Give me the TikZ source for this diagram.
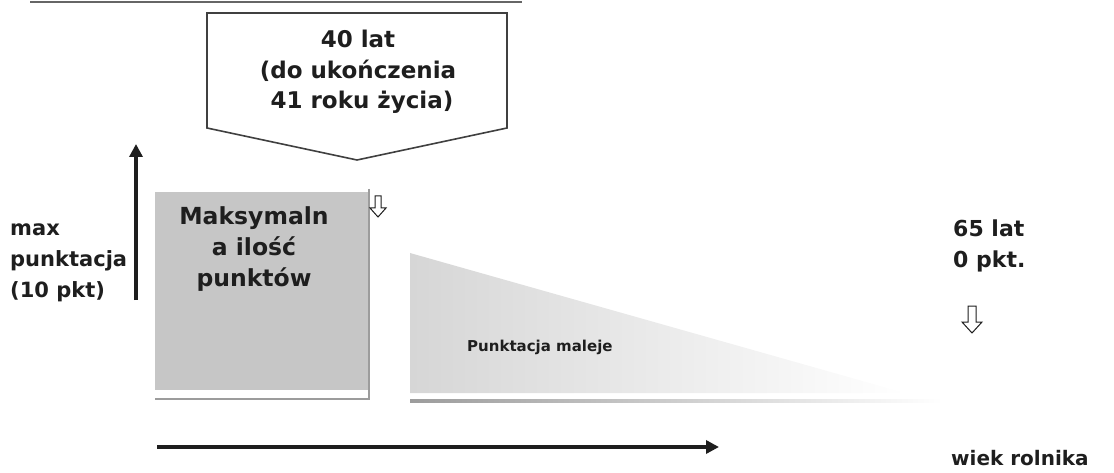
\documentclass[tikz,border=0pt]{standalone}
\usepackage{fontspec}
\setmainfont{DejaVu Sans}
\usetikzlibrary{arrows.meta}
\definecolor{ink}{HTML}{1E1E1E}
\definecolor{boxgray}{HTML}{C6C6C6}
\definecolor{shadowgray}{HTML}{9C9C9C}
\definecolor{trigray}{HTML}{D6D6D6}
\tikzset{
  lbl/.style={font=\bfseries\fontsize{21}{31}\selectfont, text=ink, inner sep=0pt},
  lblc/.style={lbl, align=center},
  lbll/.style={lbl, align=left},
  bigarrow/.style={line width=4pt, draw=ink, -{Triangle[length=13pt,width=13pt]}},
  hollow/.style={draw=ink, line width=1pt, fill=white},
  outline/.style={draw=ink!85, line width=1.6pt, fill=white}
}
\begin{document}
\begin{tikzpicture}[x=1pt,y=-1pt]
\useasboundingbox (0,0) rectangle (1114,473);
% cut-off underline at the top
\draw[gray!80!black, line width=1.4pt] (30,2) -- (522,2);
% callout pentagon
\draw[outline] (207,13) -- (507,13) -- (507,128) -- (357,160) -- (207,128) -- cycle;
\node[lblc, font=\bfseries\fontsize{23}{30.5}\selectfont] (callout) at (358,72) {40 lat\\(do ukończenia\\\ 41 roku życia)};
% vertical axis arrow
\coordinate (vbot) at (136,300);
\coordinate (vtop) at (136,144);
\draw[bigarrow] (vbot) -- (vtop);
\node[lbll, anchor=west] (maxlbl) at (10,263) {max\\punktacja\\(10 pkt)};
% gray square with shadow
\fill[boxgray] (155,192) rectangle (368,390);
\draw[shadowgray, line width=2.5pt] (369,189) -- (369,399) -- (155,399);
\node[lblc, font=\bfseries\fontsize{23.5}{31}\selectfont] (maxpts) at (254,249) {Maksymaln\\a ilość\\punktów};
% small hollow arrow near square
\draw[hollow] (375,196) -- (381,196) -- (381,208) -- (386,208) -- (378,217) -- (370,208) -- (375,208) -- cycle;
% triangle
\shade[left color=trigray, middle color=trigray!85, right color=white] (410,253) -- (410,393) -- (905,393) -- cycle;
\shade[left color=shadowgray, middle color=shadowgray!90, right color=white] (410,399.5) rectangle (942,402.5);
\node[lbl, font=\bfseries\fontsize{15}{18}\selectfont, anchor=west] (dec) at (467,347) {Punktacja maleje};
% right labels
\node[lbll, font=\bfseries\fontsize{22}{31}\selectfont, anchor=west] (end) at (953,246) {65 lat\\0 pkt.};
\draw[hollow] (968,306) -- (976,306) -- (976,322) -- (982,322) -- (972,333) -- (962,322) -- (968,322) -- cycle;
% horizontal axis arrow
\coordinate (hstart) at (157,447);
\coordinate (hend) at (719,447);
\draw[bigarrow] (hstart) -- (hend);
\node[lbl, font=\bfseries\fontsize{20}{24}\selectfont, anchor=west] (age) at (951,458) {wiek rolnika};
\end{tikzpicture}
\end{document}
